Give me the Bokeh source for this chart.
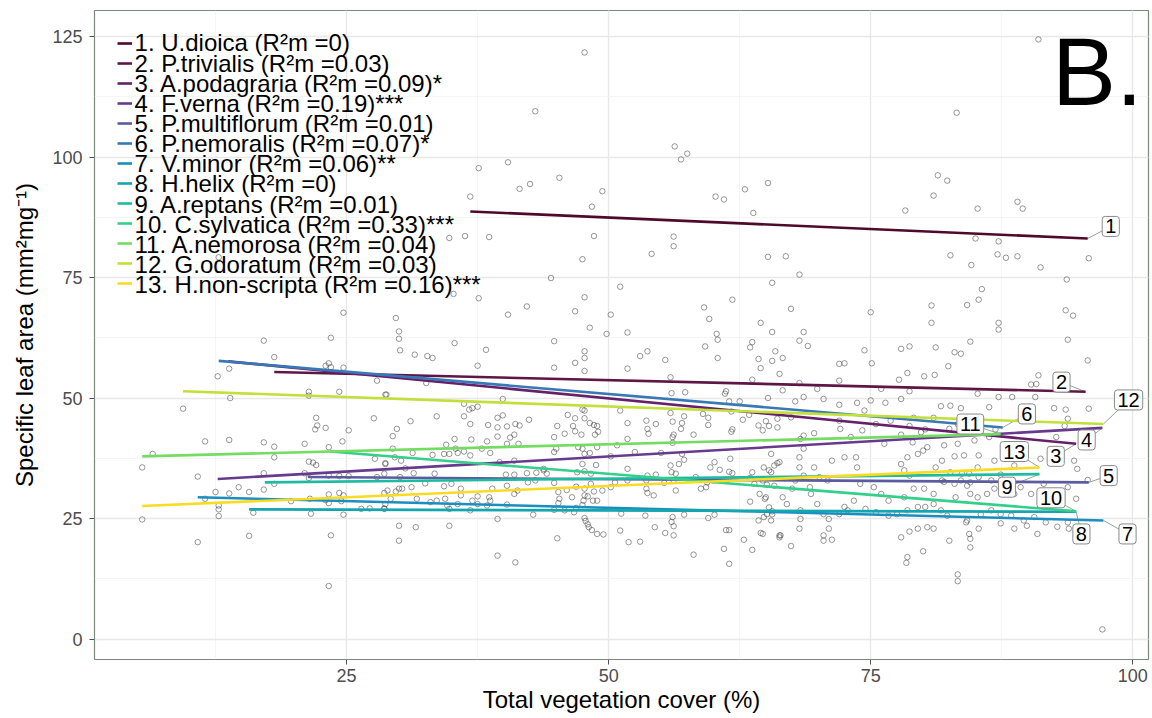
from bokeh.plotting import figure
from bokeh.models import Range1d, SingleIntervalTicker, Legend, LegendItem, Label
from bokeh.embed import file_html
from bokeh.resources import INLINE

# ---------------- data ----------------
species = ["U.dioica", "P.trivialis", "A.podagraria", "F.verna", "P.multiflorum",
           "P.nemoralis", "V.minor", "H.helix", "A.reptans", "C.sylvatica",
           "A.nemorosa", "G.odoratum", "H.non-scripta"]
r2m = ["0", "0.03", "0.09", "0.19", "0.01", "0.07", "0.06", "0", "0.01", "0.33",
       "0.04", "0.03", "0.16"]
signif = ["", "", "*", "***", "", "*", "**", "", "", "***", "", "", "***"]

# fitted lines: start / end (cover %, SLA)
fit_x0 = [36.8, 18.1, 13.7, 12.7, 21.3, 12.8, 10.8, 15.7, 17.2, 23.4, 5.5, 9.4, 5.5]
fit_y0 = [88.7, 55.4, 57.6, 33.2, 33.6, 57.7, 29.4, 26.9, 32.5, 38.9, 37.9, 51.4, 27.6]
fit_x1 = [95.7, 95.5, 94.6, 97.1, 95.8, 87.6, 97.2, 94.6, 91.1, 94.6, 87.4, 97.2, 91.1]
fit_y1 = [83.1, 51.3, 40.5, 43.8, 32.5, 43.9, 24.6, 26.4, 34.2, 26.5, 42.5, 44.6, 35.6]

# observations (total vegetation cover %, specific leaf area)
cover_a = [24.7, 29.7, 30.0, 30.0, 30.1, 17.1, 23.5, 18.1, 13.8, 12.7,
           23.0, 23.3, 23.5, 24.7, 27.9, 24.3, 21.4, 21.4, 13.9, 28.7,
           9.4, 27.6, 22.1, 22.2, 22.0, 23.0, 25.2, 29.8, 29.4, 11.5,
           13.8, 17.1, 18.1, 21.0, 23.3, 24.6, 29.4, 18.1, 27.7, 21.4,
           21.8, 22.1, 28.7, 5.5, 6.5, 10.8, 17.1, 21.0, 23.3, 24.3,
           21.4, 25.2, 18.1, 27.9, 14.7, 12.5, 13.8, 15.7, 17.1, 23.3,
           24.3, 24.7, 28.6, 29.7, 30.0, 11.5, 12.8, 12.8, 12.8, 16.1,
           19.7, 21.5, 23.0, 23.3, 24.5, 26.4, 27.2, 28.6, 21.6, 24.7,
           5.5, 10.8, 15.7, 23.5, 30.0, 30.0, 23.3]
sla_a = [67.7, 66.6, 63.8, 62.3, 59.9, 61.9, 62.5, 58.5, 56.1, 54.5,
         56.7, 57.2, 56.4, 56.3, 53.6, 51.3, 51.3, 50.5, 50.0, 50.7,
         47.8, 45.8, 45.9, 44.3, 43.5, 43.8, 43.3, 43.6, 42.1, 41.0,
         41.3, 40.8, 39.9, 40.5, 39.8, 41.0, 39.5, 37.7, 37.4, 36.8,
         36.6, 36.1, 36.3, 35.6, 38.4, 33.7, 34.4, 34.4, 33.9, 33.8,
         33.4, 33.8, 32.2, 33.6, 31.5, 30.5, 30.2, 30.5, 31.0, 30.0,
         30.3, 29.8, 30.3, 30.6, 31.2, 29.1, 27.7, 26.9, 25.5, 26.2,
         28.6, 29.1, 28.8, 28.2, 28.6, 27.0, 27.1, 27.1, 26.0, 25.8,
         24.8, 20.1, 21.4, 21.5, 23.5, 20.4, 11.0]

cover_b = [37.6, 36.8, 34.8, 36.3, 38.6, 12.8, 35.2, 37.6, 47.7, 43.0,
           56.3, 57.5, 56.9, 40.4, 41.5, 42.5, 45.3, 49.4, 48.4, 60.2,
           61.0, 63.0, 65.2, 63.8, 48.6, 56.2, 56.2, 54.1, 47.5, 65.2,
           44.5, 51.1, 65.6, 47.7, 61.8, 91.0, 83.2, 81.4, 82.3, 81.0,
           78.3, 85.2, 89.0, 89.5, 85.0, 87.2, 82.6, 87.1, 87.9, 89.0,
           84.6, 91.2, 93.7, 95.8, 66.9, 68.2, 85.6, 85.3, 97.1, 83.3]
sla_b = [97.7, 91.8, 83.2, 83.6, 83.4, 79.2, 71.6, 70.7, 121.7, 109.5,
         102.2, 100.7, 99.5, 98.9, 93.4, 94.4, 95.7, 92.9, 89.7, 91.8,
         91.2, 93.3, 94.6, 88.4, 83.6, 83.5, 81.5, 79.9, 78.8, 79.3,
         74.9, 73.1, 73.9, 70.9, 70.4, 124.4, 109.2, 96.2, 95.1, 92.0,
         88.9, 89.3, 90.7, 89.3, 83.1, 82.5, 79.6, 79.8, 79.1, 79.4,
         77.6, 77.1, 74.6, 79.0, 79.4, 75.6, 72.6, 70.4, 2.0, 12.0]

cover_c = [42.2, 40.4, 46.8, 50.2, 59.1, 59.6, 31.5, 32.7, 33.2, 35.3,
           38.3, 37.5, 44.8, 48.2, 49.8, 51.8, 60.3, 60.4, 64.5, 65.6,
           47.7, 47.7, 46.8, 44.8, 47.7, 51.8, 53.0, 53.7, 55.4, 59.2,
           60.4, 63.7, 63.5, 64.3, 64.5, 65.9, 65.6, 55.9, 63.7, 66.3,
           28.8, 32.6, 36.2, 36.7, 37.0, 37.5, 33.6, 39.9, 39.4, 39.9,
           31.1, 35.3, 36.2, 36.8, 38.5, 39.4, 40.3, 41.1, 41.5, 42.4,
           40.6, 41.0, 39.4, 38.4, 36.9, 34.5, 35.4, 34.3, 34.8, 35.6,
           36.2, 36.8, 37.9, 38.7, 40.3, 41.4, 39.6, 41.0, 40.2, 41.0,
           42.2, 43.1, 43.8, 44.8, 45.1, 44.8, 45.0, 46.1, 46.8, 46.6,
           47.5, 47.7, 47.7, 48.2, 48.6, 48.9, 49.0, 48.7, 46.8, 47.4,
           45.8, 47.1, 47.5, 47.7, 48.2, 48.9, 47.5, 48.8, 50.2, 50.8,
           51.1, 51.8, 51.8, 53.6, 53.7, 53.8, 54.5, 56.0, 55.9, 56.1,
           56.2, 56.1, 56.1, 56.9, 57.0, 57.3, 57.2, 58.1, 59.0, 59.5,
           59.5, 61.2, 61.1, 61.5, 62.5, 61.7, 61.8, 61.7, 62.8, 63.4,
           64.3, 65.2, 65.5, 65.3, 66.1, 63.7, 63.5, 63.9, 61.6, 61.5,
           61.8, 60.6, 60.1, 59.7, 60.0, 59.4, 59.3, 58.8, 58.3, 57.0,
           57.2, 56.7, 55.9, 56.0, 56.4, 56.2, 56.4, 55.0, 54.5, 53.7,
           53.6, 53.6, 53.7, 54.3, 55.3, 52.5, 51.8, 51.8, 50.6, 50.2,
           49.4, 48.6, 47.7, 47.0, 47.7, 48.3, 48.3, 48.0, 48.5, 48.9,
           47.7, 46.9, 46.5, 46.0, 45.2, 45.3, 44.8, 44.1, 43.8, 43.0,
           42.3, 41.3, 41.0, 40.3, 38.9, 38.6, 38.7, 37.5, 37.0, 35.9,
           35.0, 34.3, 33.4, 32.5, 31.4, 30.6, 30.2, 29.6, 28.6, 28.7,
           30.1, 28.9, 30.3, 31.2, 31.7, 33.0, 33.6, 34.4, 34.6, 34.8,
           35.6, 35.9, 36.8, 37.5, 38.4, 39.4, 40.3, 42.8, 44.8, 45.2,
           45.8, 46.7, 46.9, 47.5, 47.6, 48.0, 48.1, 48.4, 48.9, 49.5,
           47.7, 47.8, 51.1, 51.2, 51.9, 53.0, 53.5, 54.4, 55.4, 56.1,
           56.2, 56.2, 56.0, 57.2, 60.1, 59.5, 61.2, 61.5, 62.9, 63.7,
           61.0, 61.5, 58.1, 64.3, 64.5, 64.8, 66.3, 65.3, 65.1, 65.6,
           64.4, 64.9, 63.5, 65.1, 45.1, 39.4, 41.1, 31.6, 34.8, 28.7,
           28.6, 29.2, 31.3, 33.2]
sla_c = [69.0, 67.3, 68.0, 67.3, 68.8, 66.4, 59.0, 58.7, 58.3, 61.4,
         60.0, 56.7, 61.8, 64.6, 63.3, 63.6, 63.3, 62.1, 65.6, 63.7,
         59.7, 58.3, 57.3, 56.3, 55.6, 56.1, 58.7, 59.7, 57.9, 60.7,
         58.3, 61.6, 60.5, 58.1, 56.2, 59.7, 57.7, 54.3, 53.8, 55.0,
         50.7, 53.1, 48.8, 47.6, 47.9, 48.2, 46.2, 49.8, 45.9, 46.4,
         45.2, 41.5, 46.2, 44.6, 44.4, 43.9, 44.1, 44.6, 44.3, 45.5,
         41.8, 42.4, 42.0, 41.0, 41.4, 40.3, 39.5, 38.4, 38.4, 38.6,
         38.9, 38.1, 39.5, 38.6, 40.5, 40.5, 36.7, 37.0, 34.1, 34.1,
         34.4, 34.5, 35.0, 41.9, 44.2, 38.8, 39.5, 46.5, 45.8, 44.2,
         47.6, 47.4, 45.8, 44.8, 44.4, 44.2, 43.0, 42.4, 43.1, 42.4,
         42.6, 39.8, 39.5, 38.4, 38.6, 39.8, 36.3, 36.1, 37.9, 40.2,
         47.4, 44.8, 41.5, 45.3, 43.6, 42.6, 44.6, 51.0, 46.9, 45.1,
         42.4, 41.9, 40.7, 43.6, 44.8, 51.2, 46.2, 42.4, 46.7, 45.9,
         44.4, 51.4, 50.9, 49.3, 49.3, 47.2, 43.5, 43.0, 45.5, 46.5,
         44.3, 50.0, 38.4, 35.0, 36.5, 34.6, 33.4, 32.2, 37.4, 34.7,
         34.4, 35.1, 36.7, 35.6, 32.9, 32.5, 31.5, 31.2, 33.6, 38.4,
         37.2, 36.3, 36.0, 34.6, 34.3, 32.9, 30.8, 38.6, 34.1, 33.9,
         32.9, 31.2, 30.3, 29.8, 32.4, 38.8, 35.3, 32.9, 32.5, 31.5,
         30.8, 30.6, 31.2, 34.6, 34.8, 34.3, 32.2, 29.6, 28.7, 28.7,
         29.8, 31.6, 29.4, 30.9, 30.5, 29.1, 32.4, 34.3, 35.3, 32.9,
         32.5, 30.8, 30.1, 31.8, 31.2, 29.4, 28.7, 29.6, 28.7, 31.2,
         32.2, 31.7, 34.3, 32.3, 34.4, 35.4, 37.0, 37.7, 34.3, 36.5,
         33.6, 30.8, 31.2, 31.5, 29.1, 28.4, 28.7, 29.1, 27.7, 27.0,
         28.0, 29.8, 26.7, 28.0, 27.7, 24.9, 27.9, 25.8, 26.8, 28.2,
         26.7, 26.3, 27.2, 27.8, 28.7, 23.8, 23.2, 22.6, 21.8, 21.7,
         25.1, 24.5, 22.5, 26.0, 20.1, 20.2, 25.6, 23.2, 22.0, 25.3,
         23.4, 21.5, 24.3, 25.8, 25.8, 25.1, 22.6, 22.6, 20.6, 18.5,
         18.7, 15.6, 17.5, 24.6, 22.0, 25.3, 21.5, 27.3, 25.9, 26.5,
         30.1, 29.1, 28.5, 32.0, 20.9, 17.3, 15.9, 23.2, 23.5, 28.0,
         27.0, 29.1, 38.6, 38.2]

cover_d = [67.4, 75.0, 80.8, 80.8, 84.2, 87.2, 87.2, 93.6, 94.3, 93.8,
           95.7, 68.6, 68.2, 69.0, 66.6, 72.0, 72.5, 75.1, 74.4, 77.9,
           78.7, 81.2, 83.0, 83.6, 84.5, 82.4, 80.1, 81.1, 78.5, 77.7,
           72.0, 68.2, 66.6, 68.6, 67.8, 69.9, 70.5, 72.0, 73.7, 75.0,
           76.0, 76.4, 77.9, 78.7, 81.7, 82.6, 83.6, 85.2, 86.3, 87.2,
           88.5, 90.3, 90.8, 91.0, 90.7, 92.5, 93.6, 95.8, 93.8, 93.5,
           92.7, 66.1, 67.4, 65.0, 64.7, 65.3, 66.1, 68.6, 68.3, 72.0,
           72.1, 74.4, 75.5, 76.9, 78.7, 79.1, 80.2, 81.0, 82.5, 83.3,
           85.3, 86.3, 86.9, 69.6, 73.1, 74.2, 76.3, 77.9, 79.0, 79.8,
           80.4, 82.0, 83.3, 84.9, 81.8, 83.0, 83.9, 85.3, 86.8, 85.3,
           83.7, 82.6, 81.8, 81.2, 80.0, 79.5, 78.5, 77.9, 78.2, 78.7,
           79.1, 80.1, 81.0, 82.0, 83.0, 83.6, 84.2, 84.5, 85.2, 86.1,
           86.8, 87.6, 88.7, 89.3, 90.3, 91.5, 93.8, 94.6, 94.4, 94.7,
           95.7, 91.2, 88.7, 87.4, 84.5, 86.5, 84.4, 85.2, 83.1, 81.0,
           79.5, 78.2, 76.7, 76.0, 75.3, 74.0, 73.7, 73.6, 72.5, 71.3,
           70.9, 70.1, 69.6, 69.2, 68.6, 68.2, 68.2, 68.6, 67.8, 67.5,
           66.3, 65.8, 65.5, 64.8, 64.7, 65.0, 65.8, 66.6, 67.0, 68.3,
           69.3, 69.9, 70.5, 71.0, 72.0, 72.8, 72.5, 73.4, 74.5, 75.5,
           76.7, 77.5, 78.5, 80.2, 81.7, 82.3, 84.2, 85.5, 86.5, 87.4,
           88.4, 89.6, 90.6, 91.7, 92.8, 93.8, 93.9, 79.5, 78.7, 77.9,
           80.4, 81.0, 82.5, 84.1, 84.4, 84.5, 84.5, 85.3, 87.4, 88.7,
           89.9, 90.9, 78.5, 78.4, 80.0, 83.3, 71.3, 70.5, 70.5, 71.0,
           68.2, 68.3, 67.4, 66.4, 66.3, 64.7, 65.6, 65.5]
sla_d = [68.5, 67.8, 69.2, 65.6, 69.3, 65.6, 64.2, 68.2, 67.1, 62.1,
         57.8, 63.7, 61.9, 60.8, 58.3, 57.1, 57.2, 57.2, 59.9, 60.2,
         60.7, 60.5, 59.5, 59.2, 61.7, 56.6, 54.5, 54.8, 55.2, 53.8,
         53.6, 53.1, 51.6, 50.2, 49.3, 51.9, 49.8, 48.6, 49.0, 49.5,
         51.9, 49.0, 49.8, 51.4, 48.3, 48.4, 47.9, 50.9, 48.1, 50.2,
         50.2, 52.8, 52.9, 54.7, 50.2, 47.9, 47.6, 47.8, 45.7, 44.2,
         41.9, 45.7, 46.0, 45.2, 43.3, 44.2, 43.9, 42.2, 41.5, 45.3,
         43.6, 47.4, 44.6, 45.3, 44.2, 45.9, 43.5, 45.9, 43.6, 44.6,
         42.9, 41.9, 43.5, 42.7, 41.9, 43.3, 40.5, 42.4, 40.8, 42.9,
         39.8, 40.2, 40.5, 41.2, 37.0, 37.9, 38.1, 38.1, 37.0, 33.6,
         34.3, 34.6, 32.9, 35.6, 39.1, 38.4, 37.7, 36.3, 35.0, 33.9,
         31.2, 31.2, 30.1, 32.6, 32.2, 32.9, 31.8, 30.1, 29.4, 30.1,
         31.2, 30.1, 30.1, 31.5, 30.1, 32.2, 31.5, 29.1, 37.0, 35.3,
         33.0, 37.4, 36.0, 34.1, 32.5, 32.9, 34.3, 35.6, 29.4, 28.0,
         27.4, 29.4, 28.7, 30.1, 31.5, 32.2, 35.6, 37.7, 37.7, 37.0,
         32.9, 33.6, 35.6, 31.5, 39.5, 37.7, 35.6, 33.9, 32.9, 31.2,
         36.7, 36.0, 34.6, 35.6, 32.9, 29.4, 31.8, 29.4, 28.0, 26.7,
         30.1, 28.0, 25.9, 24.9, 25.9, 26.7, 27.4, 28.7, 27.0, 26.3,
         25.6, 25.9, 26.7, 27.4, 26.7, 25.6, 24.6, 25.9, 26.7, 25.9,
         25.6, 24.6, 25.3, 24.2, 23.3, 24.2, 22.9, 22.9, 22.3, 21.1,
         23.2, 22.9, 20.4, 24.2, 21.8, 20.8, 19.0, 22.9, 24.0, 22.9,
         23.5, 21.8, 17.0, 15.8, 18.2, 13.4, 20.6, 20.4, 21.5, 22.9,
         22.9, 24.9, 19.3, 21.5, 21.1, 21.8, 25.9, 24.6]

for cx, sy in [(cover_a, sla_a), (cover_b, sla_b), (cover_c, sla_c), (cover_d, sla_d)]:
    assert len(cx) == len(sy)
cover = cover_a + cover_b + cover_c + cover_d
sla = sla_a + sla_b + sla_c + sla_d

# ---------------- styling / layout ----------------
colors = ["#4d0a2a", "#5e1745", "#66206a", "#683a8e", "#5a5c9f", "#3778b5", "#1a8fbf",
          "#13a6b0", "#1fbba0", "#34cf8a", "#74dc62", "#c2e03a", "#f9dc22"]
label_x = [97.9, 93.2, 92.65, 95.6, 97.7, 89.9, 99.5, 95.1, 88.0, 92.2, 84.5, 99.6, 88.7]
label_y = [85.6, 53.3, 37.9, 41.3, 33.9, 46.7, 21.8, 21.8, 31.5, 29.3, 44.6, 49.6, 38.9]
FONT = "Liberation Sans"
LEGEND_FONT_PX = 24
LEGEND_ROW_PX = 20
FONT_HEIGHT_RATIO = 1.1167   # rendered line box / font size for this font

p = figure(width=1152, height=718, output_backend="svg", toolbar_location=None,
           x_range=Range1d(0.95, 101.5), y_range=Range1d(-4.25, 130.4),
           min_border_left=94, min_border_right=4, min_border_top=10, min_border_bottom=59)
p.background_fill_color = "white"
p.border_fill_color = "white"
p.outline_line_color = "#7b8b7b"
p.outline_line_width = 1.2

p.xaxis.ticker = SingleIntervalTicker(interval=25, num_minor_ticks=2)
p.yaxis.ticker = SingleIntervalTicker(interval=25, num_minor_ticks=2)
for g in (p.xgrid, p.ygrid):
    g.grid_line_color = "#e8e8e8"
    g.grid_line_width = 1.4
    g.minor_grid_line_color = "#f2f2f2"
    g.minor_grid_line_width = 0.8

for ax in (p.xaxis, p.yaxis):
    ax.axis_line_color = None
    ax.major_tick_line_color = "#4d4d4d"
    ax.major_tick_in = 0
    ax.major_tick_out = 5
    ax.minor_tick_line_color = None
    ax.major_label_text_font = FONT
    ax.major_label_text_font_size = "18px"
    ax.major_label_text_color = "#4d4d4d"
    ax.axis_label_text_font = FONT
    ax.axis_label_text_font_size = "24px"
    ax.axis_label_text_font_style = "normal"
    ax.axis_label_text_color = "black"
p.xaxis.major_label_standoff = 4
p.xaxis.axis_label_standoff = 1
p.yaxis.major_label_standoff = 7
p.yaxis.axis_label_standoff = 11
p.xaxis.axis_label = "Total vegetation cover (%)"
p.yaxis.axis_label = "Specific leaf area (mm\u00b2mg\u207b\u00b9)"

# observations
p.scatter(cover, sla, marker="circle", size=5.5, fill_color=None,
          line_color="#3a3a3a", line_alpha=0.75, line_width=0.7)

# leader lines from line ends to labels
p.segment(x0=fit_x1, y0=fit_y1, x1=label_x, y1=label_y, line_color="#93a893", line_width=1)

# fitted lines
renderers = []
for i in range(len(species)):
    r = p.line([fit_x0[i], fit_x1[i]], [fit_y0[i], fit_y1[i]], line_color=colors[i], line_width=2.6)
    renderers.append(r)

# legend: key swatches (tight 20px rows) + one tightly-spaced text block beside them
legend_texts = [f"{i+1}. {species[i]} (R\u00b2m ={r2m[i]}){signif[i]}" for i in range(len(species))]
legend = Legend(items=[LegendItem(label="", renderers=[r]) for r in renderers], location="top_left")
legend.label_text_font_size = "8px"
legend.glyph_width = 15
legend.glyph_height = LEGEND_ROW_PX
legend.label_height = LEGEND_ROW_PX
legend.label_width = 0
legend.label_standoff = 0
legend.spacing = 0
legend.padding = 0
legend.margin = 23
legend.background_fill_alpha = 0
legend.border_line_color = None
p.add_layout(legend)

p.add_layout(Label(x=4.77, y=98.6, text="\n".join(legend_texts), text_align="left",
                   text_baseline="middle", text_font=FONT,
                   text_font_size=f"{LEGEND_FONT_PX}px",
                   text_line_height=LEGEND_ROW_PX / (LEGEND_FONT_PX * FONT_HEIGHT_RATIO),
                   text_color="black"))

for i in range(len(species)):
    p.add_layout(Label(x=label_x[i], y=label_y[i], text=str(i + 1), text_align="center",
                       text_baseline="middle", text_font=FONT, text_font_size="20px",
                       text_color="black", background_fill_color="white",
                       border_line_color="#8a8a8a", border_line_width=1,
                       padding=3, border_radius=3))

p.add_layout(Label(x=92.3, y=117.8, text="B.", text_font=FONT, text_font_size="96px",
                   text_color="black", text_baseline="alphabetic", text_align="left"))

open("out.html", "w").write(file_html(p, INLINE))
